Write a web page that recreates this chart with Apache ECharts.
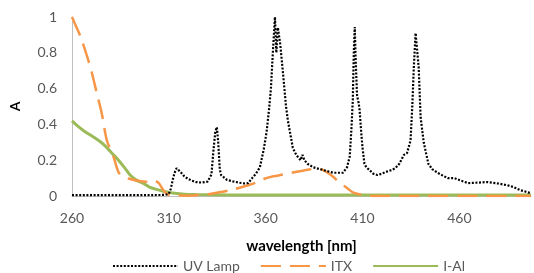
<!DOCTYPE html>
<html>
<head>
<meta charset="utf-8">
<script src="https://cdn.jsdelivr.net/npm/echarts@6/dist/echarts.min.js"></script>
<style>
  html, body { margin: 0; padding: 0; background: #fff; }
  #main { width: 534px; height: 273px; }
</style>
</head>
<body>
<div id="main"></div>
<script>
// wavelength ticks shown on the x axis
var xTicks = [260, 310, 360, 410, 460];

// UV Lamp emission (normalised)
var uvWave = [260, 270, 280, 290, 300, 308, 310, 311, 312, 313, 314, 315, 316, 317, 318, 320, 322, 324, 327, 330,
  332, 333, 334, 334.8, 335.5, 336.3, 337, 340, 343, 346, 349, 351, 353, 355, 357, 359, 360.5, 361.7, 362.7, 363.7,
  364.8, 365.5, 366.3, 367.5, 369, 370.5, 371.5, 373, 374, 375.3, 376.5, 378, 379, 380, 381.6, 384.6, 389.7, 394.8,
  399.9, 402, 403.4, 404.3, 405, 405.5, 406, 406.5, 407.2, 408, 408.5, 409.3, 410, 411, 412, 413.6, 415.5, 417.7,
  420, 422, 425, 427, 429, 431.4, 433, 434.8, 435.7, 436.5, 437.4, 438, 439, 440, 441.6, 444, 446, 449, 454, 457.5,
  461, 464.5, 470, 474.6, 480, 484.8, 488, 491.4, 494, 496.5];
var uvAbs = [0.005, 0.005, 0.005, 0.005, 0.005, 0.006, 0.012, 0.04, 0.09, 0.13, 0.155, 0.15, 0.135, 0.125, 0.11, 0.095, 0.085, 0.078, 0.075, 0.08,
  0.12, 0.25, 0.36, 0.385, 0.3, 0.15, 0.117, 0.09, 0.082, 0.075, 0.07, 0.072, 0.1, 0.125, 0.16, 0.26, 0.36, 0.48, 0.6, 0.8,
  1.0, 0.8, 0.94, 0.85, 0.68, 0.5, 0.42, 0.33, 0.27, 0.24, 0.22, 0.2, 0.23, 0.2, 0.18, 0.16, 0.145, 0.13,
  0.13, 0.16, 0.22, 0.38, 0.54, 0.8, 0.944, 0.75, 0.56, 0.52, 0.48, 0.36, 0.27, 0.18, 0.16, 0.145, 0.125, 0.117,
  0.125, 0.134, 0.145, 0.156, 0.18, 0.23, 0.24, 0.31, 0.5, 0.72, 0.91, 0.916, 0.72, 0.44, 0.3, 0.18, 0.15, 0.128, 0.1, 0.1,
  0.085, 0.072, 0.075, 0.078, 0.07, 0.06, 0.05, 0.033, 0.025, 0.017];

// ITX absorbance
var itxWave = [260, 262, 264.4, 267.8, 270, 272.9, 275.4, 278, 281.4, 284, 286.4, 290, 294, 298, 301, 303, 305, 307, 309, 312,
  320, 330, 334, 342, 351, 355, 359, 364, 369, 376, 381, 386, 389, 392, 395, 398, 402, 405, 408.5, 412, 415, 497];
var itxAbs = [1.0, 0.95, 0.89, 0.78, 0.7, 0.57, 0.46, 0.31, 0.22, 0.134, 0.106, 0.095, 0.085, 0.08, 0.09, 0.085, 0.07, 0.035, 0.012, 0.003,
  0.002, 0.01, 0.017, 0.033, 0.06, 0.075, 0.095, 0.11, 0.12, 0.135, 0.145, 0.153, 0.148, 0.13, 0.106, 0.075, 0.045, 0.02, 0.01, 0.004, 0, 0];

// I-Al absorbance
var ialWave = [260, 263, 266, 271, 275, 278, 281, 284, 287, 290, 293, 296.6, 300, 305, 309, 313, 318, 324, 340, 400, 497];
var ialAbs = [0.42, 0.39, 0.365, 0.33, 0.3, 0.27, 0.235, 0.2, 0.16, 0.117, 0.09, 0.072, 0.05, 0.033, 0.022, 0.015, 0.01, 0.008, 0.006, 0.005, 0.005];

function zip(xs, ys) {
  var out = [];
  for (var i = 0; i < xs.length; i++) out.push([xs[i], ys[i]]);
  return out;
}

var myChart = echarts.init(document.getElementById('main'));
var textColor = '#595959';
var font = 'Lato, "Open Sans", sans-serif';

var option = {
  animation: false,
  textStyle: { fontFamily: font },
  grid: { left: 68, right: 1, top: 17, bottom: 77 },
  legend: {
    left: 107,
    top: 254,
    itemWidth: 65,
    itemHeight: 14,
    itemGap: 20,
    itemStyle: { opacity: 0 },
    textStyle: { color: textColor, fontSize: 14, fontFamily: font },
    data: ['UV Lamp', 'ITX', 'I-Al']
  },
  xAxis: {
    type: 'value',
    min: 260,
    max: 497,
    interval: 50,
    name: 'wavelength [nm]',
    nameLocation: 'middle',
    nameGap: 43,
    nameTextStyle: { color: '#000', fontWeight: 'bold', fontSize: 15, fontFamily: font },
    axisLine: { show: true, lineStyle: { color: '#bfbfbf', width: 1 } },
    axisTick: { show: false },
    splitLine: { show: false },
    axisLabel: {
      color: textColor, fontSize: 14, margin: 15,
      formatter: function (v) { return xTicks.indexOf(v) >= 0 ? String(v) : ''; }
    }
  },
  yAxis: {
    type: 'value',
    min: 0,
    max: 1,
    interval: 0.2,
    name: 'A',
    nameLocation: 'middle',
    nameGap: 50,
    nameTextStyle: { color: '#000', fontWeight: 'bold', fontSize: 14, fontFamily: font },
    axisLine: { show: true, lineStyle: { color: '#bfbfbf', width: 1 } },
    axisTick: { show: false },
    splitLine: { show: false },
    axisLabel: { color: textColor, fontSize: 14, margin: 15 }
  },
  series: [
    {
      name: 'UV Lamp',
      type: 'line',
      symbol: 'none',
      data: zip(uvWave, uvAbs),
      lineStyle: { color: '#000', width: 2.2, type: [2, 1.6] },
      itemStyle: { color: '#000' },
      z: 3
    },
    {
      name: 'ITX',
      type: 'line',
      symbol: 'none',
      smooth: 0.3,
      data: zip(itxWave, itxAbs),
      lineStyle: { color: '#f79646', width: 2.5, type: [20, 9] },
      itemStyle: { color: '#f79646' },
      z: 2
    },
    {
      name: 'I-Al',
      type: 'line',
      symbol: 'none',
      smooth: 0.3,
      data: zip(ialWave, ialAbs),
      lineStyle: { color: '#9bbb59', width: 3 },
      itemStyle: { color: '#9bbb59' },
      z: 1
    }
  ]
};
myChart.setOption(option);
</script>
</body>
</html>
